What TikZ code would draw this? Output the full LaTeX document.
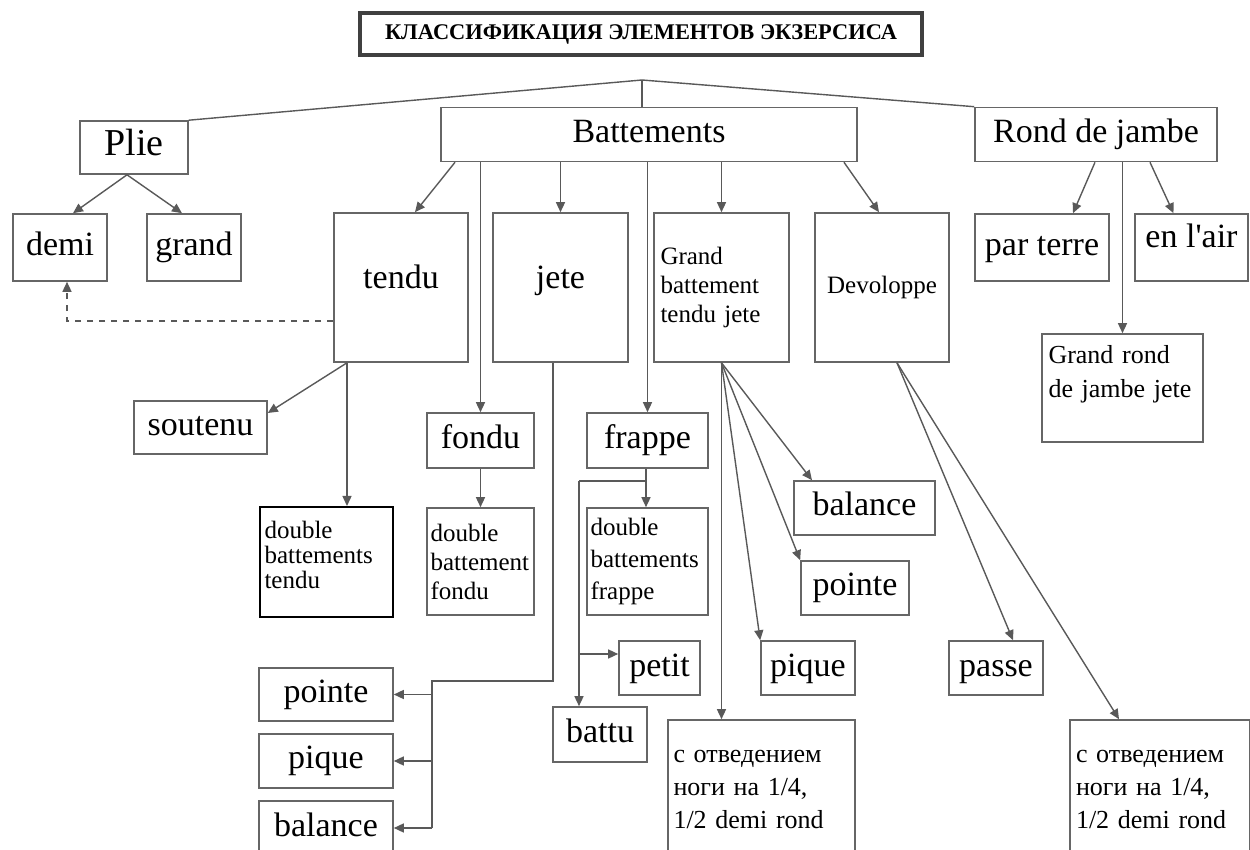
\documentclass[tikz,border=0pt]{standalone}
\usepackage{fontspec}
\setmainfont{Liberation Serif}[Ligatures=TeXOff]
\usepackage{tikz}
\usetikzlibrary{arrows.meta,calc}

\begin{document}
\begin{tikzpicture}[x=0.5pt, y=-0.5pt,
  box/.style = {draw=black!60, line width=0.8pt, inner sep=1pt, font=\fontsize{17}{19}\selectfont},
  one/.style = {box, text height=12pt, text depth=4pt},
  tall/.style = {box, text height=12pt, text depth=11pt},
  small/.style = {box, align=left, font=\fontsize{12.5}{14.5}\selectfont},
  big/.style = {box, align=left, font=\fontsize{13}{16.5}\selectfont},
  link/.style = {draw=black!65, line width=0.7pt},
  arr/.style = {link, -{Triangle[length=5pt,width=4.5pt]}}]
\useasboundingbox (0,0) rectangle (1250,850);

% title
\node[draw=black!75, line width=1.8pt, minimum width=281pt, minimum height=21pt,
  font=\bfseries\fontsize{11.2}{13}\selectfont] (title) at (641,34) {КЛАССИФИКАЦИЯ ЭЛЕМЕНТОВ ЭКЗЕРСИСА};

% first level
\coordinate (top) at (642,80);
\node[one, minimum width=54pt, minimum height=26.5pt, font=\fontsize{19}{21}\selectfont] (plie) at (134,147.5) {Plie};
\node[one, minimum width=208pt, minimum height=27pt] (batt) at (649,134.5) {Battements};
\node[one, minimum width=121pt, minimum height=27pt] (rond) at (1096,134.5) {Rond de jambe};

\draw[link] (top) -- (plie.north east);
\draw[link] (top) -- (top |- batt.north);
\draw[link] (top) -- (rond.north west);

% plie
\node[one, minimum width=47pt, minimum height=33.5pt] (demi) at (60,247.5) {demi};
\node[one, minimum width=47pt, minimum height=33.5pt] (grand) at (194,247.5) {grand};
\draw[arr] ($(plie.south)+(-7,0)$) -- ($(demi.north)+(13,0)$);
\draw[arr] ($(plie.south)+(-7,0)$) -- ($(grand.north)+(-12,0)$);

% battements
\node[tall, minimum width=67pt, minimum height=74.5pt] (tendu) at (401,287.5) {tendu};
\node[tall, minimum width=67.5pt, minimum height=74.5pt] (jete) at (560.5,287.5) {jete};
\node[small, minimum width=67.5pt, minimum height=74.5pt, text width=61pt] (gbtj) at (721.5,287.5) {Grand\\battement\\tendu jete};
\node[small, minimum width=67pt, minimum height=74.5pt, align=center] (devel) at (882,287.5) {Devoloppe};
\node[one, minimum width=53.5pt, minimum height=27.5pt] (fondu) at (480.5,440.5) {fondu};
\node[one, minimum width=60.5pt, minimum height=27.5pt] (frappe) at (647.5,440.5) {frappe};

\draw[arr] ($(batt.south)+(-194,0)$) -- ($(tendu.north)+(14,0)$);
\draw[arr] (fondu.north |- batt.south) -- (fondu.north);
\draw[arr] (jete.north |- batt.south) -- (jete.north);
\draw[arr] (frappe.north |- batt.south) -- (frappe.north);
\draw[arr] (gbtj.north |- batt.south) -- (gbtj.north);
\draw[arr] ($(batt.south)+(195,0)$) -- ($(devel.north)+(-3,0)$);

% rond de jambe
\node[one, minimum width=67pt, minimum height=33.5pt] (parterre) at (1042,247.5) {par terre};
\node[one, minimum width=56.5pt, minimum height=33.5pt] (enlair) at (1191.5,247.5) {\raisebox{4pt}{en l'air}};
\node[big, minimum width=80.5pt, minimum height=54pt, text width=74pt, font=\fontsize{13}{17}\selectfont] (grj) at (1122.5,388)
  {\raisebox{7pt}[\height][\depth]{\begin{tabular}{@{}l@{}}Grand rond\\de jambe jete\end{tabular}}};
\draw[arr] ($(rond.south)+(-1,0)$) -- ($(parterre.north)+(31,0)$);
\draw[arr] (grj.north |- rond.south) -- (grj.north);
\draw[arr] ($(rond.south)+(54,0)$) -- ($(enlair.north)+(-18,0)$);

% tendu
\node[one, minimum width=66.5pt, minimum height=26.5pt] (soutenu) at (200.5,427.5) {soutenu};
\node[small, draw=black, line width=1pt, minimum width=66.5pt, minimum height=55pt, text width=62pt,
  font=\fontsize{12.5}{12.5}\selectfont] (dbtendu) at (326.5,562)
  {\raisebox{1.5pt}[\height][\depth]{\begin{tabular}{@{}l@{}}double\\battements\\tendu\end{tabular}}};
\draw[arr] ($(tendu.south)+(-54,0)$) -- ($(soutenu.east)+(0,-14.5)$);
\draw[arr] ($(tendu.south)+(-54,0)$) -- ($(dbtendu.north)+(20.5,0)$);
\draw[arr, dashed] ($(tendu.west)+(0,33.5)$) -| ($(demi.south)+(7,0)$);

% fondu
\node[small, minimum width=53.5pt, minimum height=53.5pt, text width=50pt] (dbfondu) at (480.5,561.5) {double\\battement\\fondu};
\draw[arr] (fondu.south) -- (dbfondu.north);

% jete
\node[one, minimum width=67pt, minimum height=26.5pt] (pointeL) at (326,694.5) {pointe};
\node[one, minimum width=67pt, minimum height=27pt] (piqueL) at (326,761) {pique};
\node[one, minimum width=67pt, minimum height=27pt] (balanceL) at (326,828) {balance};
\coordinate (jt) at (432,681);
\draw[link] ($(jete.south)+(-7.5,0)$) |- (jt) -- (jt |- balanceL.east);
\draw[arr] (jt |- pointeL.east) -- (pointeL.east);
\draw[arr] (jt |- piqueL.east) -- (piqueL.east);
\draw[arr] (jt |- balanceL.east) -- (balanceL.east);

% frappe
\node[small, minimum width=60.5pt, minimum height=53.5pt, text width=57pt,
  font=\fontsize{12.5}{16}\selectfont] (dbfrappe) at (647.5,561.5) {double\\battements\\frappe};
\node[one, minimum width=40.5pt, minimum height=27pt] (petit) at (659.5,668) {petit};
\node[one, minimum width=47pt, minimum height=27.5pt] (battu) at (600,734.5) {battu};
\coordinate (fr) at (646,481);
\coordinate (fb) at (579,481);
\coordinate (pt) at ($(petit.west)+(0,-14)$);
\draw[arr] (fr |- frappe.south) -- (fr |- dbfrappe.north);
\draw[link] (fr) -- (fb);
\draw[arr] (fb) -- (fb |- battu.north);
\draw[arr] (fb |- pt) -- (pt);

% grand battement
\node[one, minimum width=70.5pt, minimum height=27pt] (balanceR) at (864.5,508) {balance};
\node[one, minimum width=54pt, minimum height=27pt] (pointeR) at (855,588) {pointe};
\node[one, minimum width=47pt, minimum height=27pt] (piqueR) at (808,668) {pique};
\node[big, minimum width=93.5pt, minimum height=70pt, text width=88pt] (sotvA) at (761.5,790) {с отведением\\ноги на 1/4,\\1/2 demi rond};
\draw[arr] (gbtj.south) -- ($(balanceR.north)+(-52.5,0)$);
\draw[arr] (gbtj.south) -- (pointeR.north west);
\draw[arr] (gbtj.south) -- (piqueR.north west);
\draw[arr] (gbtj.south) -- (gbtj.south |- sotvA.north);

% devoloppe
\node[one, minimum width=47pt, minimum height=27pt] (passe) at (996,668) {passe};
\node[big, minimum width=90pt, minimum height=70pt, text width=84pt] (sotvB) at (1160,790) {с отведением\\ноги на 1/4,\\1/2 demi rond};
\draw[arr] ($(devel.south)+(15,0)$) -- ($(passe.north)+(17,0)$);
\draw[arr] ($(devel.south)+(15,0)$) -- ($(sotvB.north)+(-41,0)$);
\end{tikzpicture}
\end{document}
